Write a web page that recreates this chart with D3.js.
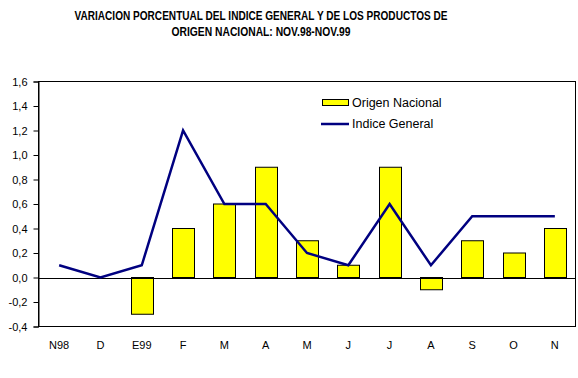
<!DOCTYPE html>
<html><head><meta charset="utf-8">
<script src="https://cdn.jsdelivr.net/npm/d3@7"></script>
<style>body{margin:0;background:#fff}svg{display:block}text{font-family:"Liberation Sans",Arial,sans-serif}</style>
</head><body>
<svg id="c" width="578" height="378"></svg>
<script>
const categories = ["N98","D","E99","F","M","A","M","J","J","A","S","O","N"];
const origenNacional = [null,null,-0.3,0.4,0.6,0.9,0.3,0.1,0.9,-0.1,0.3,0.2,0.4];
const indiceGeneral = [0.1,0.0,0.1,1.2,0.6,0.6,0.2,0.1,0.6,0.1,0.5,0.5,0.5];
const yTicks = [-0.4,-0.2,0,0.2,0.4,0.6,0.8,1.0,1.2,1.4,1.6];
const titleLines = ["VARIACION PORCENTUAL DEL INDICE GENERAL Y DE LOS PRODUCTOS DE","ORIGEN NACIONAL: NOV.98-NOV.99"];
const seriesNames = ["Origen Nacional","Indice General"];

const svg = d3.select("#c");
const L=38.5, R=575.5, T=81.5, B=326.5;
const idx = categories.map((d,i)=>i);
const x = d3.scaleBand().domain(idx).range([L,R]).paddingInner(0.47).paddingOuter(0.235);
const y = d3.scaleLinear().domain([-0.4,1.6]).range([B,T]);

// title
const tw=[373,179];
titleLines.forEach((t,i)=>{
  svg.append("text").attr("x",261).attr("y",20+i*16).attr("text-anchor","middle")
    .attr("font-size","12px").attr("font-weight","bold")
    .attr("textLength",tw[i]).attr("lengthAdjust","spacingAndGlyphs").text(t);
});

// frame
svg.append("rect").attr("x",L).attr("y",T).attr("width",R-L).attr("height",B-T)
  .attr("fill","none").attr("stroke","#000").attr("stroke-width",1);

// y axis
const yAxis = svg.append("g").attr("transform",`translate(${L},0)`)
  .call(d3.axisLeft(y).tickValues(yTicks).tickSize(5).tickPadding(6)
    .tickFormat(d=>d3.format(".1f")(d).replace(".",",").replace("−","-")));
yAxis.select(".domain").attr("stroke","#000");
yAxis.selectAll("text").attr("font-size","11px").attr("fill","#000").attr("font-family","'Liberation Sans',Arial,sans-serif");

// x labels
svg.append("g").selectAll("text").data(categories).join("text")
  .attr("x",(d,i)=>x(i)+x.bandwidth()/2).attr("y",349).attr("text-anchor","middle")
  .attr("font-size","11px").text(d=>d);

// bars
svg.append("g").selectAll("rect").data(origenNacional.map((v,i)=>({v,i})).filter(d=>d.v!==null)).join("rect")
  .attr("x",d=>Math.round(x(d.i))+0.5).attr("width",Math.round(x.bandwidth()))
  .attr("y",d=>y(Math.max(0,d.v))).attr("height",d=>Math.abs(y(d.v)-y(0)))
  .attr("fill","#ffff00").attr("stroke","#000").attr("stroke-width",1);

// zero line
svg.append("line").attr("x1",L).attr("x2",R).attr("y1",Math.round(y(0))+0.5).attr("y2",Math.round(y(0))+0.5).attr("stroke","#000");

// line
svg.append("path").datum(indiceGeneral)
  .attr("d",d3.line().x((d,i)=>x(i)+x.bandwidth()/2).y(d=>y(d)))
  .attr("fill","none").attr("stroke","#000080").attr("stroke-width",2.5);

// legend
svg.append("rect").attr("x",322.5).attr("y",99.5).attr("width",26).attr("height",6)
  .attr("fill","#ffff00").attr("stroke","#000");
svg.append("text").attr("x",352).attr("y",107).attr("font-size","12.5px").text(seriesNames[0]);
svg.append("line").attr("x1",321).attr("x2",349).attr("y1",124).attr("y2",124).attr("stroke","#000080").attr("stroke-width",2.5);
svg.append("text").attr("x",352).attr("y",128).attr("font-size","12.5px").text(seriesNames[1]);
</script>
</body></html>
